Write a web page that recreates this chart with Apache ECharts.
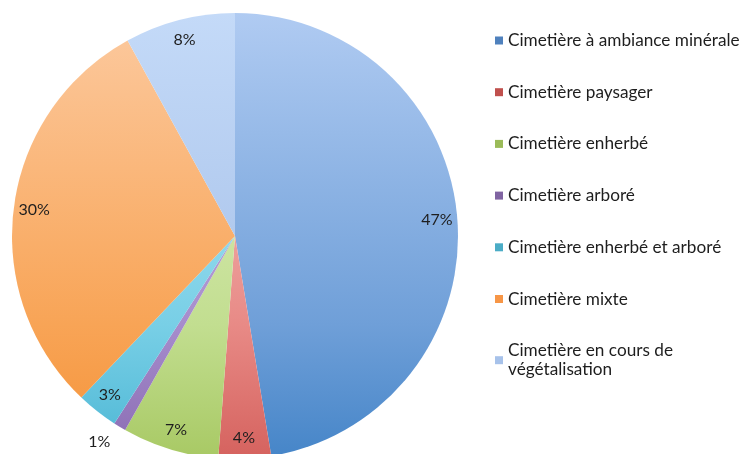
<!DOCTYPE html>
<html>
<head>
<meta charset="utf-8">
<script src="https://cdn.jsdelivr.net/npm/echarts@6/dist/echarts.min.js"></script>
<style>
  html, body { margin: 0; padding: 0; background: #fff; }
  #chart { width: 742px; height: 454px; }
</style>
</head>
<body>
<div id="chart"></div>
<script>
var categories = [
    'Cimetière à ambiance minérale',
    'Cimetière paysager',
    'Cimetière enherbé',
    'Cimetière arboré',
    'Cimetière enherbé et arboré',
    'Cimetière mixte',
    'Cimetière en cours de végétalisation'
];
var values = [47.4, 3.8, 7.0, 0.9, 3.0, 29.9, 8.0];

// shades for each slice: top, around 70% down, bottom; plus legend swatch
var topColors = ['#b0cbf2', '#f8d2d0', '#e6f2cc', '#d6cae8', '#c6ecf8', '#fccaa0', '#c4daf8'];
var midColors = ['#6f9fd8', '#e88a86', '#c2de90', '#a68ccc', '#78cfe6', '#f8a456', '#a9c3ea'];
var bottomColors = ['#4585c8', '#d5625e', '#a8c964', '#8a6cb2', '#4cb6d4', '#f59338', '#9cb8e4'];
var swatch = ['#4f81bd', '#c0504d', '#9bbb59', '#8064a2', '#4bacc6', '#f79646', '#a7c2ea'];

var myChart = echarts.init(document.getElementById('chart'));

function grad(i) {
    return {
        type: 'linear', x: 0, y: 13, x2: 0, y2: 459, global: true,
        colorStops: [
            { offset: 0, color: topColors[i] },
            { offset: 0.7, color: midColors[i] },
            { offset: 1, color: bottomColors[i] }
        ]
    };
}

var option = {
    animation: false,
    legend: {
        orient: 'vertical',
        left: 490,
        top: 26,
        itemWidth: 8,
        itemHeight: 8,
        itemGap: 32.7,
        icon: 'rect',
        textStyle: {
            fontFamily: 'Lato',
            fontSize: 17.2,
            color: '#1e1e1e',
            lineHeight: 19
        },
        formatter: function (name) {
            if (name === categories[6]) return 'Cimetière en cours de\nvégétalisation';
            return name;
        },
        data: categories.map(function (c, i) {
            return { name: c, itemStyle: { color: swatch[i] } };
        })
    },
    series: [{
        type: 'pie',
        center: [235, 236],
        radius: 223,
        startAngle: 90,
        clockwise: true,
        label: { show: false },
        labelLine: { show: false },
        data: categories.map(function (c, i) {
            return { name: c, value: values[i], itemStyle: { color: grad(i) } };
        })
    }, {
        // transparent ring only used to place the percent labels near the rim
        type: 'pie',
        center: [235, 236],
        radius: [176, 223],
        startAngle: 90,
        clockwise: true,
        silent: true,
        avoidLabelOverlap: false,
        itemStyle: { color: 'rgba(0,0,0,0)' },
        label: {
            show: true,
            position: 'inside',
            fontFamily: 'Lato',
            fontSize: 16,
            color: '#1e1e1e',
            formatter: function (p) { return Math.round(p.percent) + '%'; }
        },
        labelLine: { show: false },
        data: categories.map(function (c, i) {
            var d = { name: c, value: values[i] };
            if (i === 3) {
                d.label = { position: 'outside', distanceToLabelLine: 0 };
                d.labelLine = { show: false, length: 18, length2: 0 };
            }
            return d;
        })
    }]
};

myChart.setOption(option);
</script>
</body>
</html>
